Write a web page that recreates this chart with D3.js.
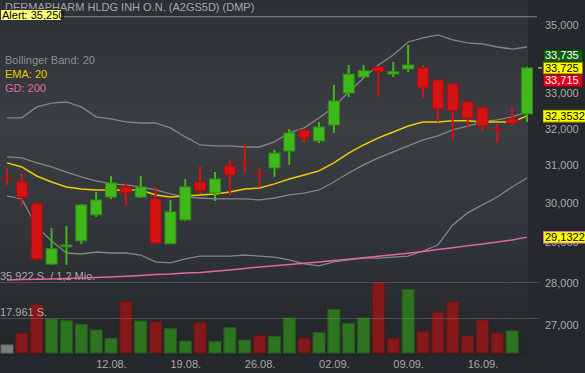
<!DOCTYPE html>
<meta charset="utf-8">
<style>
  body { margin: 0; background: #25282c; }
  svg { display: block; font-family: "Liberation Sans", Arial, sans-serif; }
  .axis path, .axis line { display: none; }
  .axis text { fill: #a9a9a9; font-size: 11px; }
</style>
<svg width="585" height="373"></svg>
<script src="https://d3js.org/d3.v7.min.js"></script>
<script>

var title = "DERMAPHARM HLDG INH O.N. (A2GS5D) (DMP)";

var days = ["01.08.","02.08.","05.08.","06.08.","07.08.","08.08.","09.08.","12.08.","13.08.","14.08.",
            "15.08.","16.08.","19.08.","20.08.","21.08.","22.08.","23.08.","26.08.","27.08.","28.08.",
            "29.08.","30.08.","02.09.","03.09.","04.09.","05.09.","06.09.","09.09.","10.09.","11.09.",
            "12.09.","13.09.","16.09.","17.09.","18.09.","19.09."];
var dateTicks = ["12.08.","19.08.","26.08.","02.09.","09.09.","16.09."];

var open  = [30.670,30.560,29.980,28.460,28.890,29.040,29.700,30.160,30.425,30.160,30.110,28.965,29.570,30.555,30.265,30.985,31.065,30.770,
             30.930,31.385,31.960,31.660,32.100,33.000,33.460,33.755,33.545,33.695,33.725,33.375,33.260,32.745,32.575,31.995,32.270,32.410];
var high  = [30.930,30.790,30.030,29.360,29.410,29.980,30.290,30.715,30.530,30.715,30.425,30.085,30.635,30.985,30.820,31.170,31.580,30.930,
             31.415,31.990,31.990,32.185,33.230,33.810,33.810,33.780,33.900,34.400,33.810,33.390,33.290,32.775,32.605,32.130,32.605,33.755];
var low   = [30.480,29.950,28.560,28.440,28.440,28.960,29.645,30.110,29.930,30.135,28.960,28.960,29.545,30.240,30.055,30.215,30.795,30.425,
             30.690,31.010,31.605,31.605,31.880,32.885,33.455,32.885,33.460,33.605,32.860,32.185,31.715,32.045,31.935,31.605,32.100,32.185];
var close = [30.660,30.160,28.590,28.840,28.935,29.955,30.085,30.530,30.270,30.425,28.985,29.775,30.425,30.320,30.635,30.740,31.060,30.765,
             31.330,31.880,31.745,32.045,32.775,33.545,33.645,33.625,33.615,33.810,33.145,32.550,32.495,32.295,32.070,31.990,32.155,33.725];
var volume = [4050,9970,24640,17200,16340,14520,11640,7440,25960,16190,15840,12300,6070,15330,5920,12800,6580,8750,
              8450,17710,7440,10270,22110,15030,17710,35922,7440,32230,10980,20590,25960,8600,16700,9970,11130,null];

var bbUpper = [32.300,32.300,32.605,32.715,32.745,32.605,32.325,32.270,32.185,32.155,32.155,32.020,31.770,31.550,31.525,31.525,31.495,31.495,
               31.635,31.880,32.020,32.295,32.605,33.030,33.430,33.810,34.105,34.490,34.610,34.700,34.550,34.460,34.430,34.340,34.280,34.340];
var bbMiddle = [31.225,31.200,31.065,30.955,30.820,30.690,30.585,30.505,30.480,30.425,30.345,30.240,30.160,30.135,30.110,30.110,30.110,30.085,
                30.135,30.215,30.265,30.345,30.555,30.795,31.010,31.200,31.360,31.525,31.690,31.800,31.965,32.070,32.185,32.240,32.325,32.465];
var bbLower = [30.190,30.110,29.390,29.035,28.735,28.710,28.760,28.735,28.735,28.685,28.515,28.490,28.590,28.660,28.660,28.660,28.685,28.660,
               28.635,28.565,28.465,28.415,28.515,28.565,28.610,28.610,28.635,28.660,28.785,28.935,29.440,29.750,29.955,30.160,30.425,30.660];
var ema20 = [31.065,30.955,30.715,30.555,30.425,30.370,30.345,30.345,30.345,30.345,30.215,30.160,30.190,30.215,30.240,30.295,30.370,30.400,
             30.505,30.635,30.740,30.850,31.065,31.330,31.550,31.745,31.905,32.070,32.185,32.185,32.215,32.215,32.185,32.185,32.185,32.3532];
var gd200 = [28.072,28.082,28.092,28.099,28.109,28.118,28.133,28.145,28.162,28.181,28.203,28.218,28.242,28.257,28.284,28.316,28.353,28.390,
             28.420,28.450,28.482,28.514,28.548,28.583,28.620,28.657,28.694,28.731,28.775,28.820,28.868,28.916,28.961,29.012,29.062,29.1322];

// 34,000 sits behind the quote boxes, so it is left out
var priceTicks = [27, 28, 29, 30, 31, 32, 33, 35];
var alertLevel = 35.25;
var quotes = [33.735, 33.725, 33.715];   // ask, last, bid
var turnover = "1,2 Mio.";

var de = d3.formatLocale({decimal: ",", thousands: ".", grouping: [3], currency: ["", ""]});

var svg = d3.select("svg"),
    width = +svg.attr("width"),
    height = +svg.attr("height"),
    plotRight = 528;

var x = d3.scalePoint().domain(days).range([7, 527]),
    y = d3.scaleLog().domain([27, 35]).range([325, 25]),
    yv = d3.scaleLinear().domain([0, d3.max(volume)]).range([353, 282]);

var defs = svg.append("defs");
var grad = defs.append("linearGradient").attr("id", "bg").attr("x1", 0).attr("y1", 0).attr("x2", 0).attr("y2", 1);
grad.append("stop").attr("offset", "0%").attr("stop-color", "#2c3034");
grad.append("stop").attr("offset", "35%").attr("stop-color", "#3a3d41");
grad.append("stop").attr("offset", "65%").attr("stop-color", "#323539");
grad.append("stop").attr("offset", "100%").attr("stop-color", "#222528");

svg.append("rect").attr("width", width).attr("height", height).attr("fill", "#25282c");
svg.append("rect").attr("x", 0).attr("y", 0).attr("width", plotRight).attr("height", 356).attr("fill", "url(#bg)");

// alert line
svg.append("line")
    .attr("x1", 0).attr("x2", 537)
    .attr("y1", y(alertLevel)).attr("y2", y(alertLevel))
    .attr("stroke", "#8c8c8c").attr("stroke-width", 1);

// volume bars, coloured by close vs previous close
svg.append("g").selectAll("rect")
    .data(volume.map(function(v, i) { return {i: i, v: v}; }).filter(function(d) { return d.v != null; }))
  .enter().append("rect")
    .attr("x", function(d) { return x(days[d.i]) - 6; })
    .attr("y", function(d) { return yv(d.v); })
    .attr("width", 12)
    .attr("height", function(d) { return yv(0) - yv(d.v); })
    .attr("fill", function(d) {
      if (d.i === 0) return "#7b7b7b";
      return close[d.i] >= close[d.i - 1] ? "#2e7420" : "#851818";
    })
    .attr("stroke", function(d) {
      if (d.i === 0) return "#666";
      return close[d.i] >= close[d.i - 1] ? "#245c19" : "#6b1313";
    });

// volume grid + labels
var vmax = d3.max(volume);
[vmax, vmax / 2].forEach(function(v, i) {
  svg.append("line")
      .attr("x1", 0).attr("x2", 540)
      .attr("y1", Math.round(yv(v)) + 0.5).attr("y2", Math.round(yv(v)) + 0.5)
      .attr("stroke", "#8a8e92").attr("stroke-opacity", 0.35);
  svg.append("text")
      .attr("x", 0).attr("y", yv(v) - 2)
      .attr("fill", "#a9a9a9").style("font-size", "11px")
      .text(de.format(",d")(v) + " S." + (i === 0 ? " / " + turnover : ""));
});

function lineOf(arr) {
  return d3.line()
      .x(function(d, i) { return x(days[i]); })
      .y(function(d) { return y(d); })(arr);
}

[bbUpper, bbMiddle, bbLower].forEach(function(arr) {
  svg.append("path").attr("d", lineOf(arr))
      .attr("fill", "none").attr("stroke", "#858585").attr("stroke-width", 1.3);
});
svg.append("path").attr("d", lineOf(gd200))
    .attr("fill", "none").attr("stroke", "#e466a6").attr("stroke-width", 1.5);
svg.append("path").attr("d", lineOf(ema20))
    .attr("fill", "none").attr("stroke", "#f2cc00").attr("stroke-width", 1.5);

// candles
var candles = svg.append("g").selectAll("g")
    .data(days.map(function(d, i) { return i; }))
  .enter().append("g");

candles.append("line")
    .attr("x1", function(i) { return x(days[i]); })
    .attr("x2", function(i) { return x(days[i]); })
    .attr("y1", function(i) { return y(high[i]); })
    .attr("y2", function(i) { return y(low[i]); })
    .attr("stroke", function(i) { return close[i] >= open[i] ? "#3fb819" : "#d81111"; })
    .attr("stroke-width", 2);

candles.append("rect")
    .attr("x", function(i) { return x(days[i]) - 5.5; })
    .attr("y", function(i) { return y(Math.max(open[i], close[i])); })
    .attr("width", 11)
    .attr("height", function(i) { return Math.max(0.5, Math.abs(y(open[i]) - y(close[i]))); })
    .attr("fill", function(i) { return close[i] >= open[i] ? "#41b81a" : "#d51313"; })
    .attr("stroke", function(i) { return close[i] >= open[i] ? "#2f8c16" : "#a40f0f"; })
    .attr("stroke-width", 1);

// legend
var legend = [["Bollinger Band: 20", "#8e8e8e", 64], ["EMA: 20", "#e8c800", 78], ["GD: 200", "#e06aa6", 92]];
legend.forEach(function(l) {
  svg.append("text").attr("x", 5).attr("y", l[2])
      .attr("fill", l[1]).style("font-size", "11px").text(l[0]);
});

// title + alert box
svg.append("text").attr("x", 5).attr("y", 10.5)
    .attr("fill", "#a6a6a6").style("font-size", "11px").text(title);
svg.append("rect").attr("x", 0.5).attr("y", 9.5).attr("width", 61).attr("height", 11)
    .attr("fill", "#ffff80").attr("stroke", "#333");
svg.append("text").attr("x", 2).attr("y", 18.5)
    .attr("fill", "#000").style("font-size", "11px").text("Alert: " + de.format(".3f")(alertLevel));

// right price axis
svg.append("g")
    .attr("class", "axis")
    .attr("transform", "translate(541,0)")
    .call(d3.axisRight(y).tickValues(priceTicks).tickSize(0).tickPadding(4).tickFormat(de.format(".3f")));

function priceBox(cy, txt, fill, stroke, color, w) {
  svg.append("rect").attr("x", 543.5).attr("y", cy - 5.5).attr("width", w).attr("height", 11.5)
      .attr("fill", fill).attr("stroke", stroke);
  svg.append("text").attr("x", 545).attr("y", cy + 4)
      .attr("fill", color).style("font-size", "11px").text(txt);
}

var lastY = y(quotes[1]);
svg.append("line").attr("x1", 538).attr("x2", 542).attr("y1", lastY).attr("y2", lastY).attr("stroke", "#ddd");
priceBox(lastY - 12.5, de.format(".3f")(quotes[0]), "#0f5f0f", "#0a3a0a", "#fff", 39);
priceBox(lastY, de.format(".3f")(quotes[1]), "#ffff00", "#888800", "#000", 39);
priceBox(lastY + 12.5, de.format(".3f")(quotes[2]), "#e0001c", "#900010", "#fff", 39);
priceBox(y(ema20[ema20.length - 1]), de.format(".4f")(ema20[ema20.length - 1]), "#ffff00", "#c8c800", "#000", 43);
priceBox(y(gd200[gd200.length - 1]), de.format(".4f")(gd200[gd200.length - 1]), "#ffff00", "#e466a6", "#000", 43);

// date axis
svg.append("g")
    .attr("class", "axis")
    .attr("transform", "translate(0,357)")
    .call(d3.axisBottom(x).tickValues(dateTicks).tickSize(0).tickPadding(3));

</script>
